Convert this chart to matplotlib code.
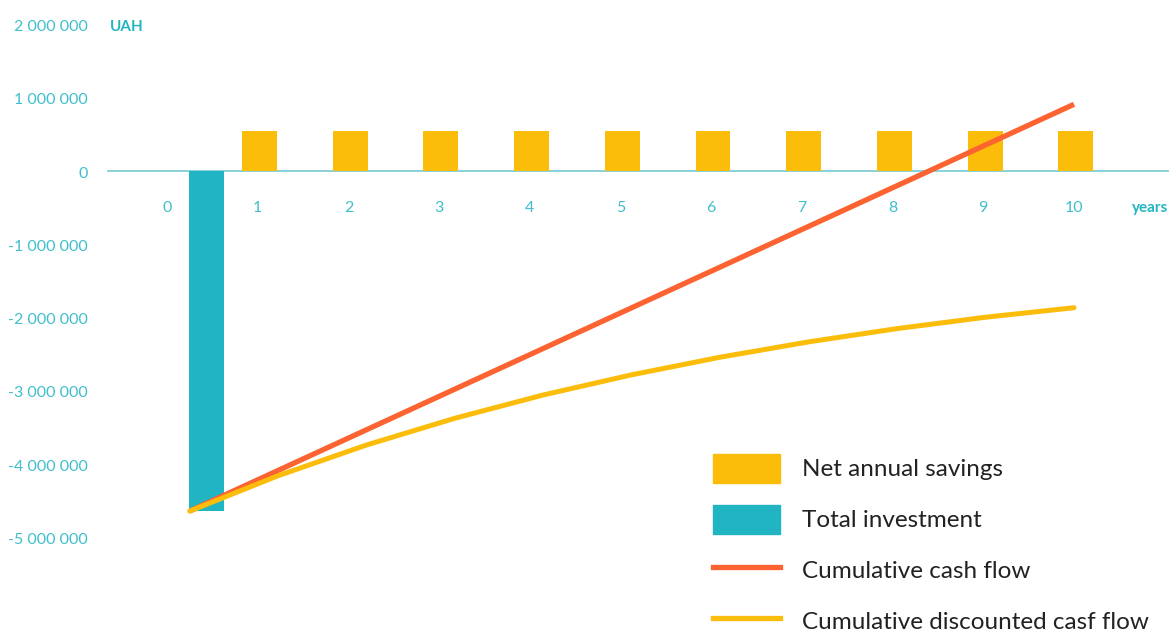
import matplotlib.pyplot as plt
import matplotlib.patches as patches
from matplotlib.lines import Line2D
import numpy as np

plt.rcParams['font.family'] = ['Lato', 'DejaVu Sans']

# data (UAH)
years = list(range(0, 11))
savings_years = list(range(1, 11))
net_annual_savings = [546000] * 10
total_investment = -4640000
cumulative_cash_flow = [-4640000, -4085000, -3530000, -2975000, -2420000, -1865000,
                        -1310000, -755000, -200000, 355000, 910000]
cumulative_discounted = [-4640000, -4157000, -3738000, -3373000, -3055000, -2780000,
                         -2540000, -2331000, -2150000, -1995000, -1865000]
y_ticks = [2000000, 1000000, 0, -1000000, -2000000, -3000000, -4000000, -5000000]

TEAL = '#21b5c4'
TICK = '#3fbfcb'
YELLOW = '#fbbc0a'
RED = '#fc6330'

fig = plt.figure(figsize=(11.71, 6.32), dpi=100)
ax = fig.add_axes([0, 0, 1, 1])
px_per_year = 90.7
px_per_unit = 73.3 / 1e6
ax.set_xlim(-167 / px_per_year, (1171 - 167) / px_per_year)
ax.set_ylim(-(632 - 171) / px_per_unit, 171 / px_per_unit)
ax.axis('off')

# zero line
ax.axhline(0, xmin=108 / 1171, xmax=1168 / 1171, color='#7fcfd6', lw=1.3, zorder=1)

# bars
ax.bar([y + 0.02 for y in savings_years], net_annual_savings, width=0.385, color=YELLOW, zorder=2)
ax.bar([0.435], [total_investment], width=0.383, color=TEAL, zorder=2)

# lines (start from investment bar)
line_x = np.linspace(0.25, 10, len(years))
ax.plot(line_x, cumulative_cash_flow, color=RED, lw=3.8, zorder=3, solid_capstyle='butt')
ax.plot(line_x, cumulative_discounted, color=YELLOW, lw=3.6, zorder=4, solid_capstyle='round')

# y tick labels
dy = -2.5 / px_per_unit
for v in y_ticks:
    lab = f"{v:,}".replace(',', ' ')
    ax.text(-79 / px_per_year, v + dy, lab, ha='right', va='center', color=TICK, fontsize=11.5)
ax.text(-57 / px_per_year, 2000000 + dy, 'UAH', ha='left', va='center', color=TEAL,
        fontsize=11, fontweight='bold')

# x tick labels
for yr in years:
    ax.text(yr, -37 / px_per_unit, str(yr), ha='center', va='center', color=TICK, fontsize=11.5)
ax.text(1168 / px_per_year - 167 / px_per_year, -37 / px_per_unit, 'years', ha='right',
        va='center', color=TEAL, fontsize=11, fontweight='bold')

# legend
handles = [patches.Patch(color=YELLOW), patches.Patch(color=TEAL),
           Line2D([], [], color=RED, lw=3.8), Line2D([], [], color=YELLOW, lw=3.8)]
labels = ['Net annual savings', 'Total investment', 'Cumulative cash flow',
          'Cumulative discounted casf flow']
fig.legend(handles, labels, loc='lower left', bbox_to_anchor=(691 / 1171, -0.04),
           frameon=False, fontsize=17.5, handlelength=2.75, handleheight=1.46,
           handletextpad=0.9, labelspacing=0.9, labelcolor='#222222')

fig.savefig('out.png', dpi=100)
